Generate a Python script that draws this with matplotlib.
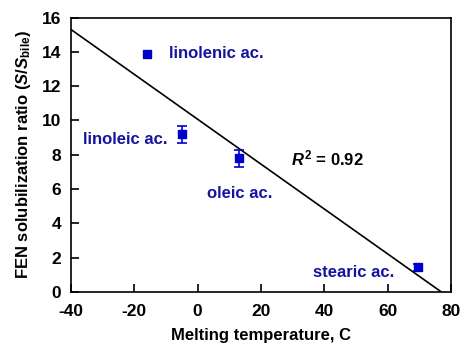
import matplotlib
matplotlib.use("Agg")
import matplotlib.pyplot as plt
import numpy as np

plt.rcParams['font.family'] = ['Liberation Sans', 'DejaVu Sans']
plt.rcParams['font.weight'] = 'bold'
plt.rcParams['axes.unicode_minus'] = False
plt.rcParams['mathtext.fontset'] = 'custom'
plt.rcParams['mathtext.rm'] = 'Liberation Sans:bold'
plt.rcParams['mathtext.it'] = 'Liberation Sans:italic:bold'
plt.rcParams['mathtext.bf'] = 'Liberation Sans:bold'

names = ["linolenic ac.", "linoleic ac.", "oleic ac.", "stearic ac."]
melt_t = [-16, -5, 13, 69.5]
ratio = [13.9, 9.2, 7.8, 1.45]
err = [np.nan, 0.5, 0.5, 0.2]
fit_x = [-40, 80]
fit_intercept = 15.3
fit_slope = -0.1308

label_pos = [(-9.0, 13.9), (-36.2, 8.9), (2.9, 5.77), (36.3, 1.12)]

fig = plt.figure(figsize=(4.61, 3.48), dpi=100)
ax = fig.add_axes([71/461, 1-292/348, 380/461, 274.5/348])

fx = np.array(fit_x, dtype=float)
ax.plot(fx, fit_intercept + fit_slope*(fx + 40), color='black', lw=1.2)
ax.errorbar(melt_t, ratio, yerr=err, fmt='s', color='#0000cc', ms=5.8,
            capsize=3.5, elinewidth=1.2, capthick=1.2, zorder=3)

for n, (px, py) in zip(names, label_pos):
    ax.text(px, py, n, color='#1414a0', fontsize=12, fontweight='bold', va='center', ha='left')
ax.text(29.5, 7.8, r"$R^2$ = 0.92", color='black', fontsize=12, fontweight='bold', va='center', ha='left')

ax.set_xlim(-40, 80)
ax.set_ylim(0, 16)
ax.set_xticks([-40, -20, 0, 20, 40, 60, 80])
ax.set_yticks(range(0, 17, 2))
ax.tick_params(direction='in', length=6, width=1.2, labelsize=12.5, top=False, right=False, pad=7)
ax.tick_params(axis='x', pad=9)
for lab in ax.get_xticklabels() + ax.get_yticklabels():
    lab.set_fontweight('bold')
for s in ax.spines.values():
    s.set_linewidth(1.2)
ax.set_xlabel("Melting temperature, C", fontsize=12, fontweight='bold', labelpad=6)
ax.set_ylabel(r"FEN solubilization ratio ($S$/$S$$_{\rm bile}$)", fontsize=12, fontweight='bold', labelpad=6)

fig.savefig("out.png", dpi=100)
